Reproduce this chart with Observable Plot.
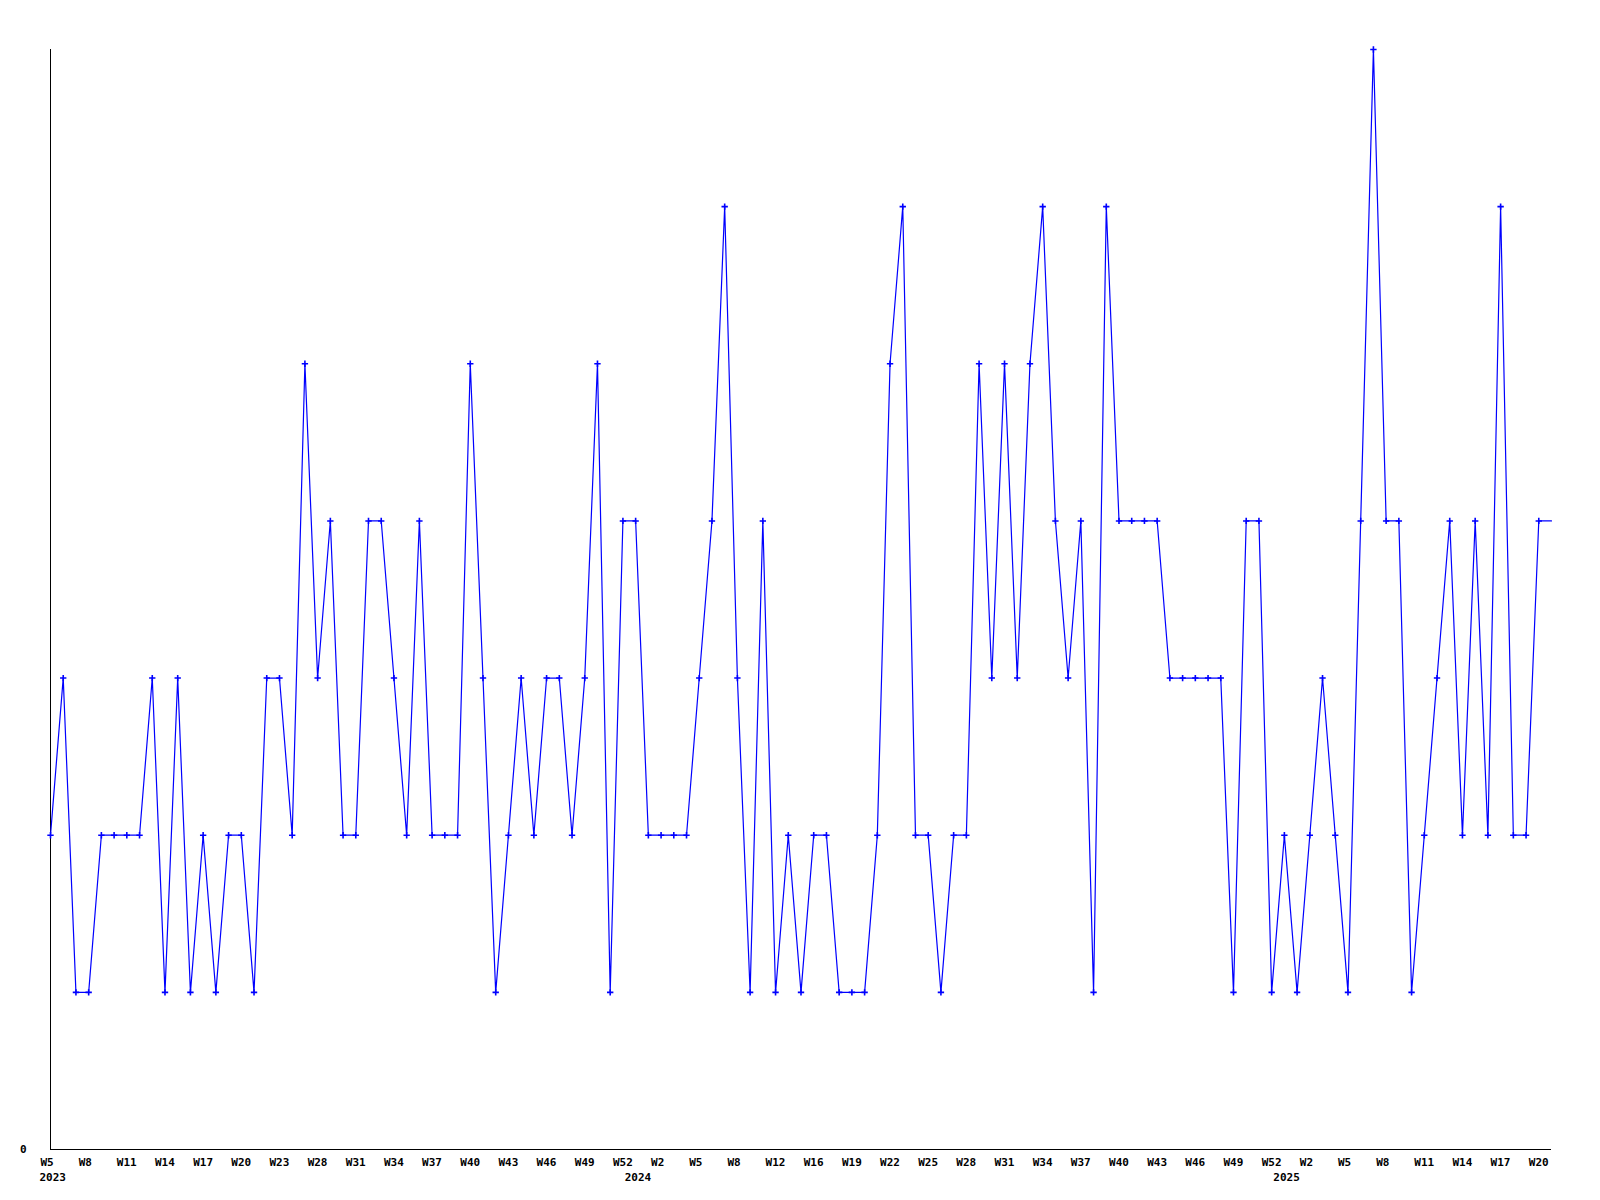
<!DOCTYPE html>
<html>
<head>
<meta charset="utf-8">
<script src="https://cdn.jsdelivr.net/npm/d3@7"></script>
<script src="https://cdn.jsdelivr.net/npm/@observablehq/plot@0.6"></script>
<style>
  html, body { margin: 0; padding: 0; background: #fff; }
  svg { display: block; }
</style>
</head>
<body>
<div id="chart"></div>
<script>
// Week categories per year (weeks missing in the data are absent)
const weeks2023 = ["W5","W6","W7","W8","W9","W10","W11","W12","W13","W14","W15","W16","W17","W18","W19","W20","W21","W22","W23","W24","W25",
  "W28","W29","W30","W31","W32","W33","W34","W35","W36","W37","W38","W39","W40","W41","W42","W43","W44","W45","W46","W47","W48","W49","W50","W51","W52"];
const weeks2024 = ["W0","W1","W2","W3","W4","W5","W6","W7","W8","W9","W10","W12","W13","W14",
  "W16","W17","W18","W19","W20","W21","W22","W23","W24","W25","W26","W27","W28","W29","W30","W31","W32","W33","W34","W35","W36","W37","W38","W39","W40","W41","W42","W43","W44","W45","W46","W47","W48","W49","W50","W51","W52"];
const weeks2025 = ["W0","W1","W2","W3","W4","W5","W6","W7","W8","W9","W10","W11","W12","W13","W14","W15","W16","W17","W18","W19","W20","W21"];
const years = ["2023", "2024", "2025"];

// Series values (one per week above, in order)
const values = [
  2,3,1,1,2,2,2,2,3,1,
  3,1,2,1,2,2,1,3,3,2,
  5,3,4,2,2,4,4,3,2,4,
  2,2,2,5,3,1,2,3,2,3,
  3,2,3,5,1,4,4,2,2,2,
  2,3,4,6,3,1,4,1,2,1,
  2,2,1,1,1,2,5,6,2,2,
  1,2,2,5,3,5,3,5,6,4,
  3,4,1,6,4,4,4,4,3,3,
  3,3,3,1,4,4,1,2,1,2,
  3,2,1,4,7,4,4,1,2,3,
  4,2,4,2,6,2,2,4,4
];
const yTicks = [0];

// Build table
const weekLists = [weeks2023, weeks2024, weeks2025];
const data = [];
weekLists.forEach((ws, yi) => ws.forEach((w, wi) => {
  data.push({i: data.length, week: w, year: years[yi], first: wi === 0});
}));
data.forEach((d, k) => d.v = values[k]);

const weekTicks = data.filter(d => d.i % 3 === 0);
const yearTicks = data.filter(d => d.first);
const blue = "#0000ff";
const font = {fontFamily: "DejaVu Sans Mono", fontSize: 11, fontWeight: "bold", fill: "#000"};

const chart = Plot.plot({
  width: 1600,
  height: 1200,
  marginLeft: 50,
  marginRight: 49,
  marginTop: 49,
  marginBottom: 51,
  style: {background: "#fff"},
  x: {type: "point", domain: data.map(d => d.i), padding: 0, axis: null},
  y: {domain: [0, 7], axis: null},
  marks: [
    Plot.ruleY([0], {stroke: "#000", strokeWidth: 1}),
    Plot.ruleX([0], {stroke: "#000", strokeWidth: 1}),
    Plot.line(data, {x: "i", y: "v", stroke: blue, strokeWidth: 1.2}),
    Plot.dot(data.slice(0, -1), {x: "i", y: "v", symbol: "plus", r: 2.2, stroke: blue, strokeWidth: 1.6}),
    Plot.text(weekTicks, {x: "i", text: "week", frameAnchor: "bottom", textAnchor: "start", lineAnchor: "top", dx: -10, dy: 9, ...font}),
    Plot.text(yearTicks, {x: "i", text: "year", frameAnchor: "bottom", textAnchor: "start", lineAnchor: "top", dx: -11, dy: 24, ...font}),
    Plot.text(yTicks, {y: d => d, text: d => String(d), frameAnchor: "left", textAnchor: "end", dx: -24, dy: 0, ...font})
  ]
});
document.getElementById("chart").appendChild(chart);
</script>
</body>
</html>
